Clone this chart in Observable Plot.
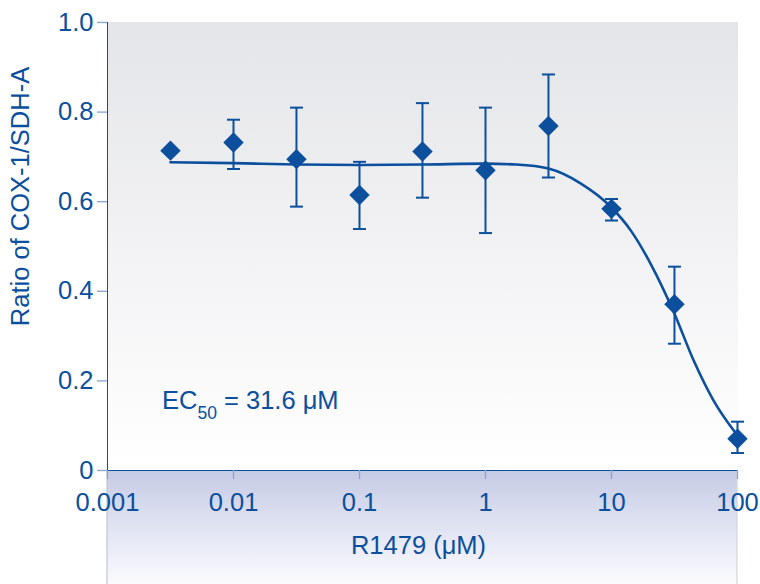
<!DOCTYPE html>
<html>
<head>
<meta charset="utf-8">
<script src="https://cdn.jsdelivr.net/npm/d3@7"></script>
<script src="https://cdn.jsdelivr.net/npm/@observablehq/plot@0.6"></script>
<style>
  html, body { margin: 0; padding: 0; background: #ffffff; }
  #chart svg { overflow: visible; display: block; }
  #chart g[aria-label^="x-axis"] line, #chart g[aria-label^="x-axis"] path,
  #chart g[aria-label^="y-axis"] line, #chart g[aria-label^="y-axis"] path { stroke: #8aa2cd; stroke-width: 1.3px; }
</style>
</head>
<body>
<div id="chart"></div>
<script>
// ---- data ----
const conc   = [0.00316, 0.01, 0.0316, 0.1, 0.316, 1, 3.16, 10, 31.6, 100];
const ratio  = [0.714, 0.732, 0.695, 0.615, 0.712, 0.670, 0.769, 0.584, 0.371, 0.071];
const errLow = [null, 0.673, 0.589, 0.539, 0.609, 0.530, 0.654, 0.558, 0.283, 0.039];
const errHigh= [null, 0.783, 0.810, 0.689, 0.820, 0.810, 0.884, 0.606, 0.455, 0.109];

const curveX = [0.00316, 0.01, 0.0316, 0.1, 0.316, 1, 1.76, 3.16, 5.68, 10, 14.2, 20.4, 31.6, 44.8, 64.6, 100];
const curveY = [0.688, 0.686, 0.683, 0.682, 0.683, 0.685, 0.683, 0.674, 0.641, 0.587, 0.536, 0.462, 0.350, 0.246, 0.156, 0.078];

const xTicks = [0.001, 0.01, 0.1, 1, 10, 100];
const xTickLabels = ["0.001", "0.01", "0.1", "1", "10", "100"];
const yTicks = [0, 0.2, 0.4, 0.6, 0.8, 1.0];
const yTickLabels = ["0", "0.2", "0.4", "0.6", "0.8", "1.0"];

const xTitle = "R1479 (μM)";
const yTitle = "Ratio of COX-1/SDH-A";
const ecLabel = ["EC", "50", " = 31.6 μM"];

// ---- build ----
const points = conc.map((c, i) => ({c, r: ratio[i], lo: errLow[i], hi: errHigh[i]}));
const bars = points.filter(d => d.lo != null);
const curve = curveX.map((c, i) => ({c, r: curveY[i]}));

const xLab = new Map(xTicks.map((v, i) => [v, xTickLabels[i]]));
const yLab = new Map(yTicks.map((v, i) => [v, yTickLabels[i]]));

const BLUE = "#0b4f9d";
const FONT = "'Liberation Sans', Arial, Helvetica, sans-serif";
const FS = 25.5;

const capSymbol = {
  draw(ctx) { ctx.moveTo(-6.5, 0); ctx.lineTo(6.5, 0); }
};

function background(index, scales, values, dims) {
  const g = d3.create("svg:g").attr("data-bg", "1");
  const defs = g.append("defs");
  const g1 = defs.append("linearGradient").attr("id", "panelGrad").attr("x1", 0).attr("y1", 0).attr("x2", 0).attr("y2", 1);
  g1.append("stop").attr("offset", "0%").attr("stop-color", "#e4e5e8");
  g1.append("stop").attr("offset", "100%").attr("stop-color", "#ffffff");
  const g2 = defs.append("linearGradient").attr("id", "footGrad").attr("x1", 0).attr("y1", 0).attr("x2", 0).attr("y2", 1);
  g2.append("stop").attr("offset", "0%").attr("stop-color", "#c5cbe5");
  g2.append("stop").attr("offset", "100%").attr("stop-color", "#fbfbfe");
  const x0 = scales.x(xTicks[0]), x1 = scales.x(xTicks[xTicks.length - 1]);
  const yTop = scales.y(1), y0 = scales.y(0);
  g.append("rect").attr("x", x0).attr("y", yTop).attr("width", x1 - x0 + 1).attr("height", y0 - yTop).attr("fill", "url(#panelGrad)");
  g.append("rect").attr("x", x0).attr("y", y0).attr("width", x1 - x0).attr("height", dims.height - y0).attr("fill", "url(#footGrad)");
  g.append("line").attr("x1", x0).attr("x2", x0).attr("y1", y0).attr("y2", dims.height).attr("stroke", "#c4c7cf").attr("stroke-width", 1.2);
  g.append("line").attr("x1", x1).attr("x2", x1).attr("y1", y0).attr("y2", dims.height).attr("stroke", "#d4d6dc").attr("stroke-width", 1.2);
  return g.node();
}

function ecText(index, scales, values, dims) {
  const t = d3.create("svg:text")
    .attr("x", scales.x(xTicks[0]) + 55)
    .attr("y", scales.y(0) - 61)
    .attr("fill", BLUE)
    .attr("text-anchor", "start")
    .attr("font-size", FS)
    .attr("font-family", FONT);
  t.append("tspan").text(ecLabel[0]);
  t.append("tspan").attr("dy", 10).attr("font-size", 17.5).text(ecLabel[1]);
  t.append("tspan").attr("dy", -10).text(ecLabel[2]);
  return t.node();
}

const chart = Plot.plot({
  width: 760,
  height: 584,
  marginLeft: 107,
  marginRight: 23,
  marginTop: 22,
  marginBottom: 114,
  style: { fontFamily: FONT, fontSize: FS + "px", color: BLUE, background: "transparent", overflow: "visible" },
  x: { type: "log", domain: [0.001, 100], ticks: xTicks, tickFormat: d => xLab.get(d), tickSize: 9, tickPadding: 13, label: null, line: true },
  y: { domain: [0, 1], ticks: yTicks, tickFormat: d => yLab.get(d), tickSize: 10, tickPadding: 4, label: null, line: true },
  marks: [
    background,
    Plot.line(curve, { x: "c", y: "r", stroke: BLUE, strokeWidth: 2.6, curve: "monotone-x" }),
    Plot.ruleX(bars, { x: "c", y1: "lo", y2: "hi", stroke: BLUE, strokeWidth: 2 }),
    Plot.dot(bars, { x: "c", y: "lo", symbol: capSymbol, stroke: BLUE, fill: "none", strokeWidth: 2, r: 5 }),
    Plot.dot(bars, { x: "c", y: "hi", symbol: capSymbol, stroke: BLUE, fill: "none", strokeWidth: 2, r: 5 }),
    Plot.dot(points, { x: "c", y: "r", symbol: "diamond2", fill: BLUE, stroke: "none", r: 9.2 }),
    ecText,
    Plot.text([xTitle], { frameAnchor: "bottom", dy: 83, lineAnchor: "bottom", fill: BLUE, fontSize: FS, dx: -4 }),
    Plot.text([yTitle], { frameAnchor: "left", textAnchor: "middle", dx: -87, dy: -50, rotate: -90, fill: BLUE, fontSize: FS })
  ]
});

// put the background behind the axes
const bg = chart.querySelector("g[data-bg]");
if (bg) {
  const firstG = Array.from(chart.children).find(n => n.tagName.toLowerCase() !== "style");
  chart.insertBefore(bg, firstG);
}

document.getElementById("chart").appendChild(chart);
</script>
</body>
</html>
